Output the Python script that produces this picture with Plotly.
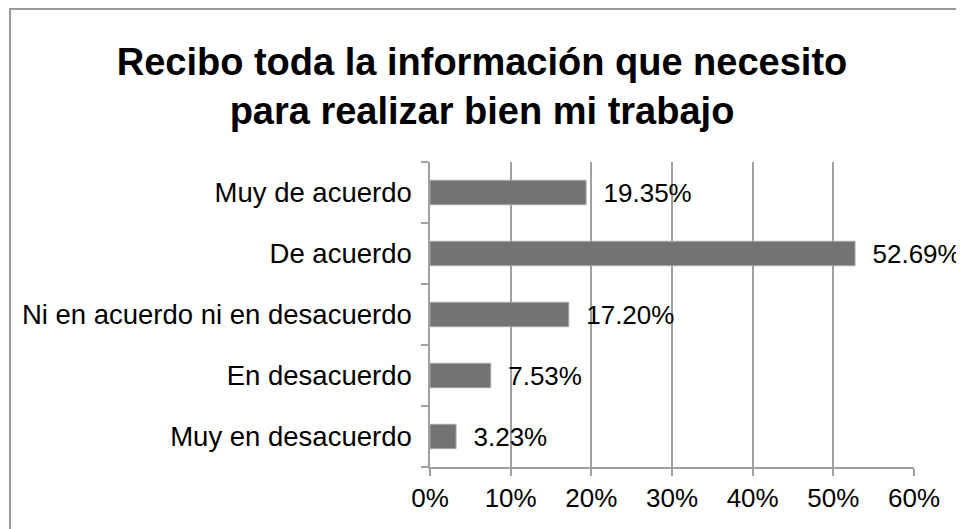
import plotly.graph_objects as go

categories = ["Muy en desacuerdo", "En desacuerdo", "Ni en acuerdo ni en desacuerdo", "De acuerdo", "Muy de acuerdo"]
values = [3.23, 7.53, 17.20, 52.69, 19.35]
labels = ["3.23%", "7.53%", "17.20%", "52.69%", "19.35%"]
tick_vals = [0, 10, 20, 30, 40, 50, 60]
tick_text = ["0%", "10%", "20%", "30%", "40%", "50%", "60%"]
title_text = "<b>Recibo toda la información que necesito<br>para realizar bien mi trabajo</b>"

# page has an 8px body margin; figure is sized to fit inside the window
W, H = 956, 521
ml, mt = 422, 154
pw, ph = 484, 305
mr, mb = W - ml - pw, H - mt - ph
FONT = "Liberation Sans, Arial"

fig = go.Figure()
fig.add_trace(go.Bar(
    y=categories, x=values, orientation="h",
    marker=dict(color="#737373", line=dict(color="#a6a6a6", width=1)),
    text=["  " + t for t in labels], textposition="outside",
    textfont=dict(family=FONT, size=26, color="#000000"),
    constraintext="none", cliponaxis=False,
))

fig.update_layout(
    width=W, height=H,
    margin=dict(l=ml, r=mr, t=mt, b=mb, pad=0, autoexpand=False),
    paper_bgcolor="white", plot_bgcolor="white",
    showlegend=False, bargap=0.6,
    font=dict(family=FONT, size=26, color="#000000"),
    title=dict(text=title_text, x=(482 - 8) / W, xanchor="center", xref="container",
               y=1 - (75 - 8) / H, yanchor="middle",
               font=dict(family=FONT, size=38, color="#000000")),
    xaxis=dict(range=[0, 60], tickvals=tick_vals, ticktext=tick_text,
               showgrid=True, gridcolor="#a0a0a0", gridwidth=1.5,
               showline=True, linecolor="#a0a0a0", linewidth=1.5,
               ticks="outside", ticklen=7, tickcolor="#a0a0a0", tickwidth=1.5,
               zeroline=False, fixedrange=True, automargin=False, tickfont=dict(size=26)),
    yaxis=dict(showgrid=False, zeroline=False, showline=True, linecolor="#a0a0a0", linewidth=1.5,
               ticks="outside", ticklen=7, tickcolor="#a0a0a0", tickwidth=1.5,
               tickson="boundaries", ticklabelstandoff=11, automargin=False,
               tickfont=dict(size=27.5), fixedrange=True),
)

# chart border (top and left visible, others beyond the window)
fig.add_shape(type="rect", xref="paper", yref="paper",
              x0=(2 - ml) / pw, x1=(W + 30 - ml) / pw,
              y0=-(mb + 30) / ph, y1=(H - 1 - mb) / ph,
              line=dict(color="#9a9a9a", width=2), fillcolor="rgba(0,0,0,0)", layer="below")

fig.write_html("out.html")
